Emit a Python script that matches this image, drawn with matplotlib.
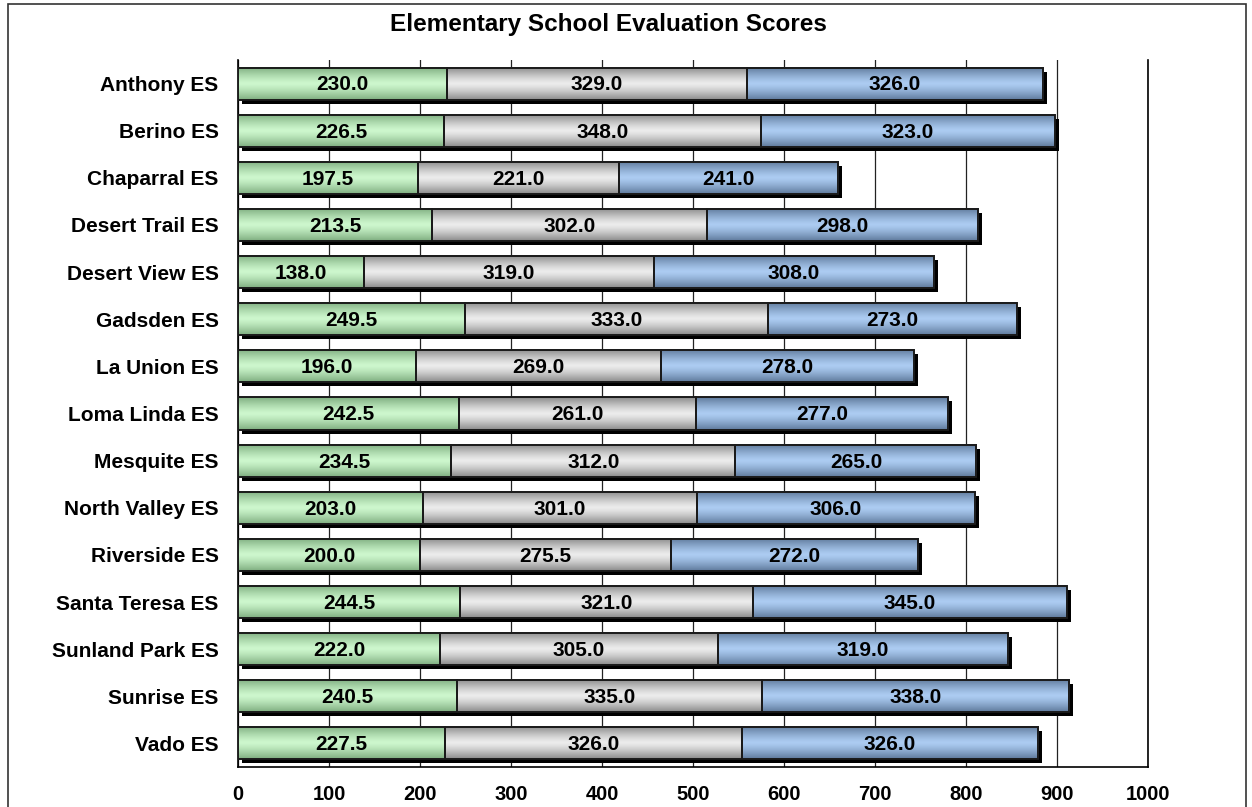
import numpy as np
import matplotlib
matplotlib.use('Agg')
import matplotlib.pyplot as plt
import matplotlib.transforms as mtransforms
from matplotlib.colors import LinearSegmentedColormap
from matplotlib.patches import Rectangle

schools = ['Anthony ES', 'Berino ES', 'Chaparral ES', 'Desert Trail ES', 'Desert View ES',
           'Gadsden ES', 'La Union ES', 'Loma Linda ES', 'Mesquite ES', 'North Valley ES',
           'Riverside ES', 'Santa Teresa ES', 'Sunland Park ES', 'Sunrise ES', 'Vado ES']
part1 = [230.0, 226.5, 197.5, 213.5, 138.0, 249.5, 196.0, 242.5, 234.5, 203.0, 200.0, 244.5, 222.0, 240.5, 227.5]
part2 = [329.0, 348.0, 221.0, 302.0, 319.0, 333.0, 269.0, 261.0, 312.0, 301.0, 275.5, 321.0, 305.0, 335.0, 326.0]
part3 = [326.0, 323.0, 241.0, 298.0, 308.0, 273.0, 278.0, 277.0, 265.0, 306.0, 272.0, 345.0, 319.0, 338.0, 326.0]
ticks = [0, 100, 200, 300, 400, 500, 600, 700, 800, 900, 1000]

plt.rcParams['font.family'] = ['Liberation Sans', 'DejaVu Sans']

# gradient colours: (edge, centre) for each series
grads = [('#7fae80', '#cdf7cd'), ('#8a8a8a', '#ececec'), ('#5f7a9c', '#acccf2')]

fig = plt.figure(figsize=(12.52, 8.07), dpi=100)
ax = fig.add_axes([238 / 1252, 1 - 767 / 807, 910 / 1252, 707 / 807])

y = np.arange(len(schools))
h = 0.68
series = [np.array(part1), np.array(part2), np.array(part3)]
totals = series[0] + series[1] + series[2]

# shadow behind the whole stacked bar
shadow_tr = mtransforms.offset_copy(ax.transData, fig=fig, x=4, y=-4, units='dots')
ax.barh(y, totals, height=h, color='black', transform=shadow_tr, zorder=2)

grad = np.abs(np.linspace(-1, 1, 64))[:, None]
left = np.zeros(len(schools))
for vals, (c_edge, c_mid) in zip(series, grads):
    cmap = LinearSegmentedColormap.from_list('g', [c_mid, c_edge])
    bars = ax.barh(y, vals, left=left, height=h, facecolor='none',
                   edgecolor='#1a1a1a', linewidth=1.4, zorder=4)
    for b, v in zip(bars, vals):
        x0, y0 = b.get_x(), b.get_y()
        ax.imshow(grad ** 1.3, cmap=cmap, aspect='auto', vmin=0, vmax=1,
                  extent=[x0, x0 + b.get_width(), y0 + b.get_height(), y0],
                  zorder=3, interpolation='bilinear')
        ax.text(x0 + b.get_width() / 2, y0 + b.get_height() / 2 + 0.03, '%.1f' % v,
                ha='center', va='center', fontsize=15, fontweight='bold', zorder=5)
    left = left + vals

ax.set_xlim(0, 1000)
ax.set_ylim(len(schools) - 0.5, -0.5)
ax.set_xticks(ticks)
ax.set_xticklabels([str(t) for t in ticks], fontsize=14.5, fontweight='bold')
ax.set_yticks(y)
ax.set_yticklabels(schools, fontsize=15, fontweight='bold')
ax.tick_params(length=0, pad=14, axis='y')
ax.tick_params(length=0, pad=13, axis='x')
ax.xaxis.grid(True, color='#222222', linewidth=0.9)
ax.set_axisbelow(True)
ax.spines['top'].set_visible(False)
for s in ['left', 'bottom', 'right']:
    ax.spines[s].set_color('black')
    ax.spines[s].set_linewidth(1.2)

fig.text(608 / 1252, 1 - 24 / 807, 'Elementary School Evaluation Scores', ha='center', va='center',
         fontsize=17.5, fontweight='bold')

fig.patches.append(Rectangle((8 / 1252, -0.05), 1238 / 1252, 1 - 4 / 807 + 0.05,
                             transform=fig.transFigure, fill=False, edgecolor='#333333',
                             linewidth=1.2))

fig.savefig('out.png', dpi=100)
